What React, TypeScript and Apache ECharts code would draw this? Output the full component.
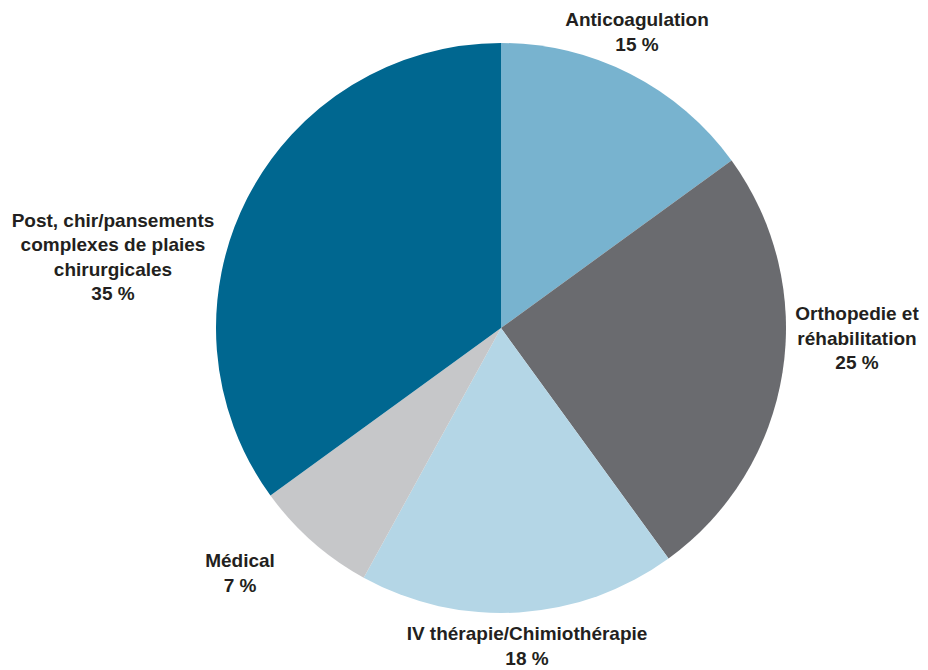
import React, { useEffect, useRef } from "react";
import * as echarts from "echarts";

const categories = [
  "Anticoagulation",
  "Orthopedie et\nréhabilitation",
  "IV thérapie/Chimiothérapie",
  "Médical",
  "Post, chir/pansements\ncomplexes de plaies\nchirurgicales",
];
const values = [15, 25, 18, 7, 35];
const colors = ["#78b3cf", "#6a6b6f", "#b4d6e6", "#c6c7c9", "#006790"];

// label anchor offsets from pie center (layout only)
const CENTER = [501, 328];
const RADIUS = 285;
const labelOffsets = [
  [136, -296],
  [356, 10],
  [26, 318],
  [-261, 245],
  [-388, -71],
];

export default function App() {
  const ref = useRef<HTMLDivElement>(null);
  useEffect(() => {
    document.body.style.margin = "0";
    const chart = echarts.init(ref.current!, null, { renderer: "svg" });
    chart.setOption({
      animation: false,
      backgroundColor: "#ffffff",
      series: [
        {
          type: "pie",
          center: CENTER,
          radius: RADIUS,
          startAngle: 90,
          clockwise: true,
          avoidLabelOverlap: false,
          itemStyle: { borderWidth: 0 },
          label: {
            show: true,
            position: "inside",
            formatter: (p: any) => `${p.name}\n${p.value} %`,
            fontFamily: "Liberation Sans, Arial, sans-serif",
            fontWeight: "bold",
            fontSize: 19,
            lineHeight: 24.5,
            color: "#231f20",
            align: "center",
          },
          labelLine: { show: false },
          labelLayout: (p: any) => ({
            x: CENTER[0] + labelOffsets[p.dataIndex][0],
            y: CENTER[1] + labelOffsets[p.dataIndex][1],
            align: "center",
            verticalAlign: "middle",
          }),
          emphasis: { disabled: true },
          data: categories.map((c, i) => ({
            name: c,
            value: values[i],
            itemStyle: { color: colors[i] },
          })),
        },
      ],
    });
    return () => chart.dispose();
  }, []);
  return <div ref={ref} style={{ width: 928, height: 670 }} />;
}
